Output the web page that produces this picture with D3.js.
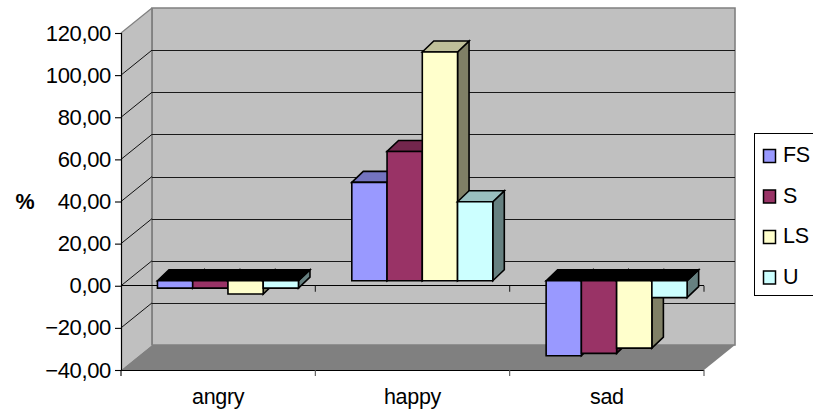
<!DOCTYPE html>
<html>
<head>
<meta charset="utf-8">
<script src="https://cdn.jsdelivr.net/npm/d3@7/dist/d3.min.js"></script>
<style>
  html, body { margin: 0; padding: 0; background: #fff; overflow: hidden; }
  svg { display: block; }
  text { font-family: "Liberation Sans", Arial, sans-serif; fill: #000; }
</style>
</head>
<body>
<svg id="chart" width="813" height="412"></svg>
<script>
// Percent change by emotion and segment
const categories = ["angry", "happy", "sad"];
const seriesNames = ["FS", "S", "LS", "U"];
const valuesFS = [-3.5, 46.7, -35.6];
const valuesS = [-3.5, 61.4, -34.5];
const valuesLS = [-6.3, 108.6, -32];
const valuesU = [-3.5, 37.5, -8];
const seriesValues = [valuesFS, valuesS, valuesLS, valuesU];
const seriesColors = ["#9999ff", "#993366", "#ffffcc", "#ccffff"];
const yTicks = [-40, -20, 0, 20, 40, 60, 80, 100, 120];

const svg = d3.select("#chart");

// Front plane of the box and the oblique offset to its back wall
const plot = { left: 121, right: 704, top: 33, bottom: 370 };
const box = { dx: 31, dy: -25 };
// Bars stand slightly inside the box, with their own small depth
const barPlane = { dx: 9.8, dy: -5 };
const barDepth = { dx: 11.5, dy: -11 };
const groupWidth = 141;

const y = d3.scaleLinear().domain([-40, 120]).range([plot.bottom, plot.top]);
const x = d3.scaleBand().domain(categories).range([plot.left, plot.right]);
const inner = d3.scaleBand().domain(seriesNames).range([0, groupWidth]);

const polygon = (pts, fill, stroke, width) =>
  svg.append("polygon")
    .attr("points", pts.map(p => p.join(",")).join(" "))
    .attr("fill", fill)
    .attr("stroke", stroke || "none")
    .attr("stroke-width", width || 0)
    .attr("stroke-linejoin", "miter");

const line = (x1, y1, x2, y2, stroke, width) =>
  svg.append("line")
    .attr("x1", x1).attr("y1", y1).attr("x2", x2).attr("y2", y2)
    .attr("stroke", stroke).attr("stroke-width", width || 1);

// Horizontal rules snapped to the pixel grid stay solid
const rule = (x1, x2, yy, stroke) =>
  line(x1, Math.round(yy) + 0.5, x2, Math.round(yy) + 0.5, stroke, 1);

// Back wall, side wall and floor
const backL = plot.left + box.dx, backR = plot.right + box.dx;
const backTop = plot.top + box.dy, backBottom = plot.bottom + box.dy;
polygon([[backL, backTop], [backR, backTop], [backR, backBottom], [backL, backBottom]], "#c0c0c0", "#808080", 1.6);
polygon([[plot.left, plot.bottom], [backL, backBottom], [backL, backTop], [plot.left, plot.top]], "#c0c0c0");
line(plot.left, plot.top, backL, backTop, "#808080", 1.2);
line(backL, backTop, backL, backBottom, "#808080", 1.8);

// Gridlines run across the side wall and along the back wall
yTicks.filter(t => t > -40 && t < 120).forEach(t => {
  const yy = y(t);
  line(plot.left, yy, backL, yy + box.dy, "#111", 1);
  rule(backL, backR, yy + box.dy, "#1a1a1a");
});

polygon([[plot.left, plot.bottom], [plot.right, plot.bottom], [backR, backBottom], [backL, backBottom]], "#808080");

// Value axis
const comma = d3.formatLocale({ decimal: ",", thousands: ".", grouping: [3], currency: ["", ""] });
const yAxis = d3.axisLeft(y).tickValues(yTicks).tickSize(6).tickPadding(4).tickFormat(comma.format(".2f"));
const gy = svg.append("g").attr("transform", `translate(${plot.left},0)`).call(yAxis);
gy.select(".domain").attr("stroke", "#000").attr("stroke-width", 1.2).attr("d", `M0.5,${plot.top}V${plot.bottom}`);
gy.selectAll("line").attr("stroke", "#000").attr("stroke-width", 1.1);
gy.selectAll("text")
  .attr("font-size", 22)
  .attr("letter-spacing", -0.35)
  .attr("font-family", '"Liberation Sans", Arial, sans-serif');

// Category axis on the floor edge, plus the zero line crossing the box
const catEdges = categories.map(c => x(c)).concat(plot.right);
rule(plot.left, plot.right, plot.bottom - 0.5, "#000");
catEdges.forEach((e, i) => line(e, plot.bottom, e, plot.bottom + 6, i ? "#555" : "#000", 1.1));
rule(plot.left, plot.right, y(0) - 0.5, "#000");
catEdges.slice(1).forEach(e => line(e, y(0), e, y(0) + 6, "#222", 1.1));

svg.append("g").selectAll("text").data(categories).join("text")
  .attr("x", c => x(c) + x.bandwidth() / 2)
  .attr("y", 404)
  .attr("text-anchor", "middle")
  .attr("font-size", 21.5)
  .attr("letter-spacing", -0.3)
  .text(c => c);

svg.append("text")
  .attr("x", 25).attr("y", 209)
  .attr("text-anchor", "middle")
  .attr("font-size", 21.5)
  .attr("font-weight", "bold")
  .text("%");

// Shade a face colour toward black by the given factor
const shade = (hex, k) => {
  const c = d3.rgb(hex);
  return d3.rgb(c.r * k, c.g * k, c.b * k).formatHex();
};

// Bars: front face, top face and right side, left to right so neighbours overlap
const centreOffset = (x.bandwidth() - groupWidth) / 2;
categories.forEach((cat, ci) => {
  seriesNames.forEach((name, si) => {
    const v = seriesValues[si][ci];
    const color = seriesColors[si];
    const x0 = x(cat) + centreOffset + inner(name) + barPlane.dx;
    const x1 = x0 + inner.bandwidth();
    const yBase = y(0) + barPlane.dy;
    const yVal = y(v) + barPlane.dy;
    const yTop = Math.min(yBase, yVal), yBot = Math.max(yBase, yVal);
    const d = barDepth;

    polygon([[x1, yTop], [x1 + d.dx, yTop + d.dy], [x1 + d.dx, yBot + d.dy], [x1, yBot]], shade(color, 0.5), "#000", 1.6);
    polygon([[x0, yTop], [x0 + d.dx, yTop + d.dy], [x1 + d.dx, yTop + d.dy], [x1, yTop]],
      v < 0 ? "#000" : shade(color, 0.75), "#000", 1.6);
    polygon([[x0, yTop], [x1, yTop], [x1, yBot], [x0, yBot]], color, "#000", 1.6);
  });
});

// Legend box runs off the right edge
svg.append("rect")
  .attr("x", 754.5).attr("y", 133.5).attr("width", 80).attr("height", 162)
  .attr("fill", "#fff").attr("stroke", "#000").attr("stroke-width", 1);

const legendY = d3.scalePoint().domain(seriesNames).range([156, 277.5]);
seriesNames.forEach((name, i) => {
  svg.append("rect")
    .attr("x", 763.5).attr("y", legendY(name) - 6.5)
    .attr("width", 12).attr("height", 13)
    .attr("fill", seriesColors[i]).attr("stroke", "#000").attr("stroke-width", 1.5);
  svg.append("text")
    .attr("x", 783).attr("y", legendY(name) + 6)
    .attr("font-size", 21.5)
    .attr("letter-spacing", -0.3)
    .text(name);
});
</script>
</body>
</html>
